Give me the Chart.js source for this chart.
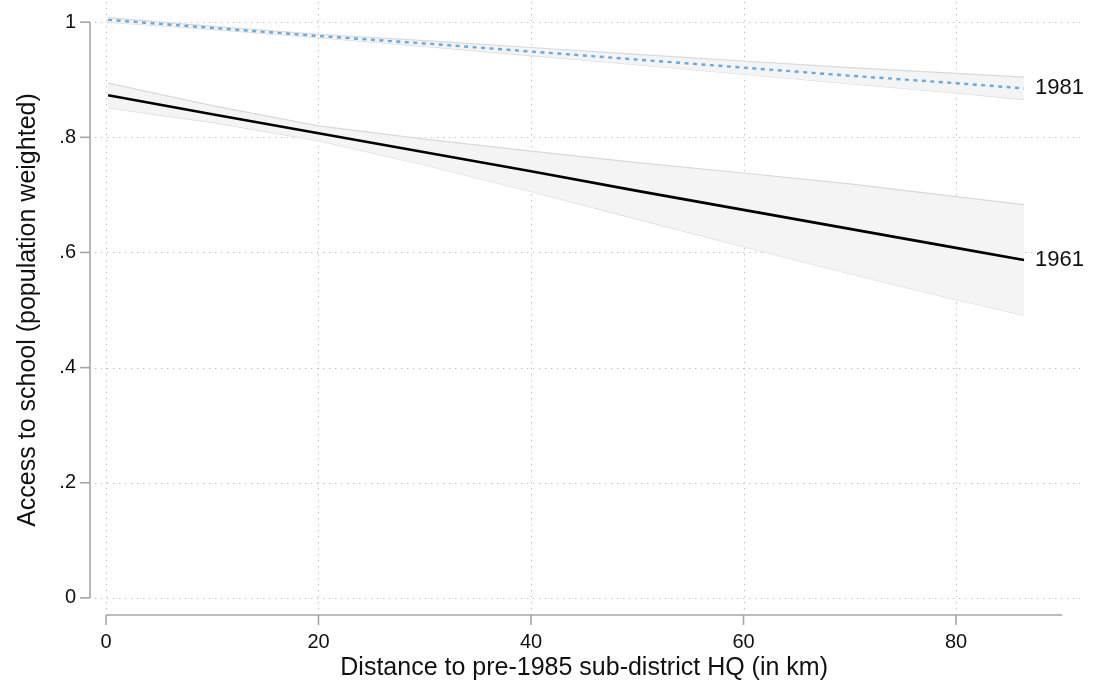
<!DOCTYPE html>
<html>
<head>
<meta charset="utf-8">
<title>Access to school</title>
<script src="https://cdn.jsdelivr.net/npm/chart.js@4.4.0/dist/chart.umd.min.js"></script>
<style>
  html, body { margin: 0; padding: 0; background: #fff; }
  #wrap { width: 1094px; height: 692px; }
</style>
</head>
<body>
<div id="wrap"><canvas id="fit-chart" width="1094" height="692"></canvas></div>
<script>
    "use strict";

    // Distance (km) where the fitted values were read
    var distances = [0.2, 10, 20, 30, 40, 50, 60, 70, 80, 86.4];

    // 1961 fit and 95% band
    var fit1961   = [0.873, 0.840, 0.807, 0.774, 0.741, 0.707, 0.674, 0.641, 0.608, 0.587];
    var upper1961 = [0.894, 0.855, 0.820, 0.797, 0.776, 0.756, 0.738, 0.719, 0.697, 0.683];
    var lower1961 = [0.851, 0.826, 0.794, 0.752, 0.706, 0.658, 0.610, 0.563, 0.518, 0.491];

    // 1981 fit and 95% band
    var fit1981   = [1.004, 0.990, 0.976, 0.963, 0.949, 0.935, 0.921, 0.907, 0.894, 0.885];
    var upper1981 = [1.008, 0.9925, 0.979, 0.968, 0.956, 0.944, 0.9325, 0.921, 0.911, 0.9045];
    var lower1981 = [1.000, 0.9875, 0.973, 0.958, 0.942, 0.926, 0.9095, 0.893, 0.877, 0.8655];

    // Axis ticks
    var xTicks = [0, 20, 40, 60, 80];
    var xTickLabels = ['0', '20', '40', '60', '80'];
    var yTicks = [0, 0.2, 0.4, 0.6, 0.8, 1];
    var yTickLabels = ['0', '.2', '.4', '.6', '.8', '1'];

    var xTitle = 'Distance to pre-1985 sub-district HQ (in km)';
    var yTitle = 'Access to school (population weighted)';
    var seriesNames = ['1961', '1981'];

    var FONT = "'Liberation Sans', Helvetica, Arial, sans-serif";
    var AXIS_GREY = '#a6a6a6';
    var BAND_FILL = '#f4f4f4';
    var BAND_EDGE = '#d9d9d9';

    function toPoints(ys) {
        return distances.map(function (d, i) {
            return { x: d, y: ys[i] };
        });
    }

    function bandEdge(ys, fill) {
        return {
            data: toPoints(ys),
            borderColor: BAND_EDGE,
            borderWidth: 1.2,
            backgroundColor: BAND_FILL,
            fill: fill,
            pointRadius: 0,
            tension: 0,
            order: 2
        };
    }

    // Grid lines under the bands
    var gridPlugin = {
        id: 'stataGrid',
        beforeDatasetsDraw: function (chart) {
            var ctx = chart.ctx;
            var area = chart.chartArea;
            var xs = chart.scales.x;
            var ys = chart.scales.y;
            ctx.save();
            ctx.strokeStyle = '#bdbdbd';
            ctx.lineWidth = 1;
            ctx.setLineDash([1.3, 4.7]);
            yTicks.forEach(function (v) {
                var py = Math.round(ys.getPixelForValue(v)) + 0.5;
                ctx.beginPath();
                ctx.moveTo(area.left, py);
                ctx.lineTo(area.right, py);
                ctx.stroke();
            });
            xTicks.forEach(function (v) {
                var px = Math.round(xs.getPixelForValue(v)) + 0.5;
                ctx.beginPath();
                ctx.moveTo(px, area.top);
                ctx.lineTo(px, area.bottom);
                ctx.stroke();
            });
            ctx.restore();
        }
    };

    // Offset axes, tick labels, titles and series labels
    var axesPlugin = {
        id: 'stataAxes',
        afterDraw: function (chart) {
            var ctx = chart.ctx;
            var area = chart.chartArea;
            var xs = chart.scales.x;
            var ys = chart.scales.y;
            var yAxisX = area.left - 5;
            var xAxisY = area.bottom + 5;

            ctx.save();
            ctx.strokeStyle = AXIS_GREY;
            ctx.lineWidth = 1.6;

            // y axis
            ctx.beginPath();
            ctx.moveTo(yAxisX, ys.getPixelForValue(0));
            ctx.lineTo(yAxisX, ys.getPixelForValue(1));
            ctx.stroke();
            yTicks.forEach(function (v) {
                var py = ys.getPixelForValue(v);
                ctx.beginPath();
                ctx.moveTo(yAxisX - 10, py);
                ctx.lineTo(yAxisX, py);
                ctx.stroke();
            });

            // x axis
            ctx.beginPath();
            ctx.moveTo(xs.getPixelForValue(0), xAxisY);
            ctx.lineTo(xs.getPixelForValue(90), xAxisY);
            ctx.stroke();
            xTicks.forEach(function (v) {
                var px = xs.getPixelForValue(v);
                ctx.beginPath();
                ctx.moveTo(px, xAxisY);
                ctx.lineTo(px, xAxisY + 10);
                ctx.stroke();
            });

            ctx.fillStyle = '#111';
            ctx.font = '20px ' + FONT;

            ctx.textAlign = 'right';
            ctx.textBaseline = 'middle';
            yTicks.forEach(function (v, i) {
                ctx.fillText(yTickLabels[i], yAxisX - 14, ys.getPixelForValue(v));
            });

            ctx.textAlign = 'center';
            ctx.textBaseline = 'top';
            xTicks.forEach(function (v, i) {
                ctx.fillText(xTickLabels[i], xs.getPixelForValue(v), xAxisY + 17);
            });

            // titles
            ctx.font = '25px ' + FONT;
            ctx.textBaseline = 'middle';
            ctx.fillText(xTitle, (xs.getPixelForValue(0) + xs.getPixelForValue(90)) / 2, 668);

            ctx.save();
            ctx.translate(28, (ys.getPixelForValue(0) + ys.getPixelForValue(1)) / 2);
            ctx.rotate(-Math.PI / 2);
            ctx.fillText(yTitle, 0, 0);
            ctx.restore();

            // series labels at the end of each fit
            var last = distances.length - 1;
            ctx.font = '22px ' + FONT;
            ctx.textAlign = 'left';
            ctx.fillText(seriesNames[0], xs.getPixelForValue(distances[last]) + 11, ys.getPixelForValue(fit1961[last]));
            ctx.fillText(seriesNames[1], xs.getPixelForValue(distances[last]) + 11, ys.getPixelForValue(fit1981[last]));

            ctx.restore();
        }
    };

    var ctx = document.getElementById('fit-chart').getContext('2d');
    var fitChart = new Chart(ctx, {
        type: 'line',
        data: {
            datasets: [
                bandEdge(upper1961, '+1'),
                bandEdge(lower1961, false),
                bandEdge(upper1981, '+1'),
                bandEdge(lower1981, false),
                {
                    label: seriesNames[0],
                    data: toPoints(fit1961),
                    borderColor: '#000000',
                    borderWidth: 2.6,
                    pointRadius: 0,
                    fill: false,
                    order: 0
                },
                {
                    label: seriesNames[1],
                    data: toPoints(fit1981),
                    borderColor: '#62abe4',
                    borderWidth: 2.4,
                    borderDash: [4, 4.5],
                    pointRadius: 0,
                    fill: false,
                    order: 0
                }
            ]
        },
        options: {
            responsive: false,
            animation: false,
            layout: {
                padding: { left: 95, right: 14, top: 2, bottom: 82 }
            },
            scales: {
                x: { type: 'linear', display: false, min: -1.035, max: 91.67 },
                y: { type: 'linear', display: false, min: -0.021, max: 1.035 }
            },
            plugins: {
                legend: { display: false },
                tooltip: { enabled: false }
            }
        },
        plugins: [gridPlugin, axesPlugin]
    });
</script>
</body>
</html>
